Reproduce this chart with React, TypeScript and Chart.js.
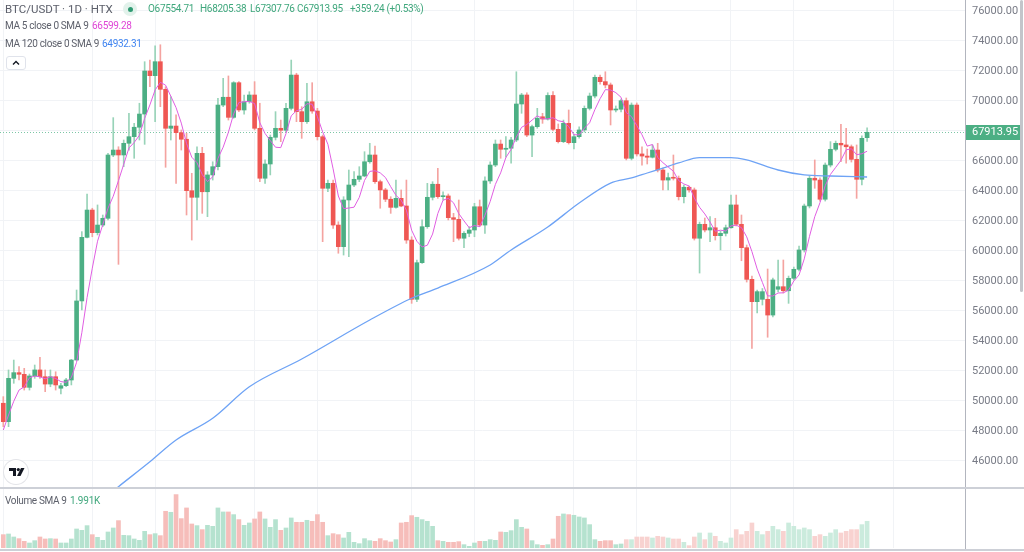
import React, { useEffect, useRef } from 'react';
import { Chart, registerables } from 'chart.js';

Chart.register(...registerables);

// ---- Daily candles (BTC/USDT 1D, HTX) ----
const opens = [
  49850, 48620, 51510, 51890, 51780, 50910, 51670, 52070, 51620, 51130,
  51620, 50850, 51020, 51400, 52730, 56670, 60910, 62730, 61220, 61730,
  62180, 66400, 66730, 66400, 67180, 67620, 68250, 69130, 72000, 71690,
  72620, 70780, 68180, 68330, 67890, 67450, 64020, 63580, 66510, 63950,
  65070, 65620, 69730, 70250, 68910, 71220, 69400, 69950, 70400, 68180,
  64850, 65800, 67580, 68180, 68050, 69510, 71730, 69290, 68620, 69950,
  69330, 67620, 64180, 64510, 61730, 60290, 63400, 64400, 64780, 65000,
  65950, 66400, 64620, 64070, 63450, 62910, 63510, 63000, 60730, 56780,
  59220, 61620, 63580, 64450, 63620, 63670, 62220, 62110, 60850, 61180,
  61400, 62950, 61730, 64670, 65730, 67130, 66780, 66850, 67400, 69800,
  70400, 67730, 68290, 68950, 68800, 70370, 68110, 67290, 68510, 67220,
  67620, 68070, 69510, 70330, 71580, 71290, 71070, 69400, 69450, 70020,
  66180, 69730, 66470, 66330, 66250, 66730, 65400, 64730, 64890, 64850,
  63620, 64250, 64070, 60850, 61780, 61400, 61550, 61020, 61180, 61550,
  63070, 61780, 60220, 58110, 56620, 56780, 56780, 55730, 57450, 57620,
  57350, 58180, 58780, 60070, 63000, 64850, 64730, 63450, 65730, 66780,
  67180, 67070, 66950, 66110, 64780, 67554.71,
];
const highs = [
  50290, 52070, 52730, 52290, 52180, 51800, 52400, 52910, 52070, 52070,
  51950, 51180, 51510, 52780, 57400, 61290, 63800, 62850, 63070, 62400,
  66510, 68890, 66950, 67400, 69180, 68510, 69850, 72620, 72730, 73670,
  73750, 70950, 70290, 69070, 68070, 67850, 65180, 66950, 66910, 65290,
  65950, 70180, 71510, 71670, 71290, 71290, 70400, 70620, 71290, 69850,
  66070, 67730, 69290, 68730, 69850, 72730, 71850, 69620, 71180, 71220,
  69510, 67730, 64730, 64730, 61950, 63620, 65400, 65290, 65620, 66620,
  67180, 67000, 64730, 64180, 63620, 64730, 64070, 64730, 60950, 59400,
  62070, 64510, 64620, 65510, 63950, 63800, 62510, 63400, 61290, 61620,
  63180, 63400, 64950, 65950, 67400, 67400, 67620, 67580, 71950, 70510,
  70550, 68400, 69510, 69180, 70550, 70620, 68470, 68730, 69400, 67800,
  68270, 69670, 70530, 71730, 71730, 71950, 71200, 69670, 70130, 70200,
  69870, 69870, 66950, 66800, 67070, 67180, 65530, 65200, 66400, 65000,
  64400, 64330, 64200, 61930, 62200, 62290, 62180, 61330, 61730, 63730,
  63730, 62400, 60400, 58330, 57400, 57500, 58800, 58200, 59400, 59400,
  58330, 58930, 60330, 63130, 65000, 66070, 64870, 65870, 67290, 67330,
  68450, 68180, 67070, 67070, 67670, 68205.38,
];
const lows = [
  48290, 48290, 51180, 51400, 50730, 50730, 51510, 51510, 50620, 50950,
  50730, 50470, 50950, 51070, 52730, 56070, 60880, 60950, 61070, 61620,
  62070, 66290, 59110, 65620, 66730, 66180, 67400, 67110, 70950, 68620,
  69620, 65580, 67400, 64510, 66730, 62400, 60730, 62070, 62510, 62290,
  64730, 65400, 69620, 68730, 68850, 69290, 69130, 69850, 68070, 64620,
  64510, 65070, 67400, 67290, 67950, 69400, 68620, 67510, 68510, 69180,
  67400, 60620, 63950, 61510, 59850, 59730, 59620, 64290, 64620, 64950,
  65850, 64510, 62850, 63290, 62510, 62850, 62950, 60510, 56510, 56620,
  59180, 61510, 63400, 63510, 63400, 62070, 60620, 60730, 60220, 60950,
  60950, 61620, 61180, 64510, 65620, 66180, 66250, 65850, 67290, 69180,
  67620, 66290, 68180, 68510, 68730, 68000, 67200, 67220, 67130, 66800,
  67530, 67930, 69400, 70200, 71130, 70870, 68400, 69270, 69270, 66070,
  66070, 66330, 65730, 65800, 66200, 65270, 64070, 64070, 64730, 63400,
  63200, 63930, 60730, 58530, 61270, 60620, 60730, 60070, 61000, 61530,
  61670, 59350, 57930, 53510, 55870, 56400, 54250, 55600, 57270, 57200,
  56510, 58070, 58670, 59930, 62870, 64180, 63330, 63330, 65600, 66670,
  65950, 65850, 65930, 63510, 64400, 67307.76,
];
const closes = [
  48620, 51510, 51890, 51780, 50910, 51670, 52070, 51620, 51130, 51620,
  51070, 51020, 51400, 52730, 56670, 60910, 62730, 61220, 61730, 62180,
  66400, 66730, 66400, 67180, 67620, 68250, 69130, 72000, 71690, 72620,
  70780, 68180, 68330, 67890, 67450, 64020, 63580, 66510, 63950, 65070,
  65620, 69730, 70250, 68910, 71220, 69400, 69950, 70400, 68180, 64850,
  65800, 67580, 68180, 68050, 69510, 71730, 69290, 68620, 69950, 69330,
  67620, 64180, 64510, 61730, 60290, 63400, 64400, 64780, 65000, 65950,
  66400, 64620, 64070, 63450, 62910, 63510, 63000, 60730, 56780, 59220,
  61620, 63580, 64450, 63620, 63670, 62220, 62110, 60850, 61180, 61400,
  62950, 61730, 64670, 65730, 67130, 66780, 66850, 67400, 69800, 70400,
  67730, 68290, 68850, 68800, 70370, 68110, 67290, 68510, 67220, 67620,
  68070, 69510, 70330, 71580, 71290, 71070, 69400, 69450, 70020, 66180,
  69730, 66470, 66330, 66250, 66730, 65400, 64730, 64890, 64850, 63620,
  64250, 64070, 60850, 61780, 61400, 61550, 61020, 61180, 61550, 63070,
  61780, 60220, 58110, 56620, 57290, 57290, 55730, 58070, 57620, 57350,
  58180, 58780, 60070, 63000, 64850, 64730, 63450, 65730, 66780, 67180,
  67070, 66950, 66110, 64780, 67510, 67913.95,
];
const volumes = [
  1480, 1554, 1221, 1036, 740, 555, 814, 1221, 999, 1036,
  999, 555, 555, 999, 2109, 1961, 2479, 1480, 1184, 851,
  1776, 2220, 3034, 1406, 1369, 999, 851, 1850, 1480, 1591,
  1369, 4070, 3959, 5920, 3256, 4440, 2664, 2479, 2035, 2516,
  2405, 4440, 3996, 3996, 3700, 3145, 2516, 2775, 3219, 3996,
  3219, 2294, 3145, 1961, 2220, 3330, 2849, 2849, 3071, 2960,
  3700, 2849, 1369, 1591, 1480, 1110, 1739, 629, 481, 1036,
  814, 740, 1036, 814, 666, 925, 2775, 2849, 3589, 3404,
  3145, 2960, 2405, 814, 740, 629, 629, 703, 370, 185,
  555, 740, 740, 925, 851, 1776, 1739, 1924, 3145, 2294,
  2109, 814, 370, 296, 370, 999, 3515, 3774, 3700, 3626,
  3441, 3330, 2590, 925, 740, 814, 814, 370, 444, 925,
  925, 1221, 1221, 1221, 1110, 1295, 1221, 1110, 999, 999,
  629, 259, 1221, 1665, 925, 1665, 1295, 740, 555, 1110,
  2035, 1480, 1850, 2775, 1850, 1480, 1850, 2405, 2035, 1850,
  2775, 2405, 2035, 2220, 2035, 1295, 1480, 1295, 1665, 2035,
  1665, 1850, 2035, 2035, 2590, 2960,
];
// closes before the first visible candle (needed for the MA 5 start)
const priorCloses = [46500, 47300, 48050, 49850];
// MA 120 line, read at these candle positions
const ma120Index = [16, 22, 28, 33, 40, 47, 57, 70, 78, 83, 93, 97, 104, 110, 116, 120, 123, 126, 129, 133, 139, 142, 148, 153, 158, 165];
const ma120Values = [42600, 44290, 45950, 47400, 48850, 50950, 52800, 55400, 56850, 57530, 59070, 60070, 61600, 63200, 64530, 64870, 65200, 65530, 65870, 66230, 66230, 66070, 65400, 65070, 65000, 64932.31];
const priceTicks = [46000, 48000, 50000, 52000, 54000, 56000, 58000, 60000, 62000, 64000, 66000, 68000, 70000, 72000, 74000, 76000];
const timeGrid = [0, 17, 29, 48, 60, 78, 90, 109, 121, 139, 151, 170];

const X_MIN = -0.63;
const X_MAX = 183.7;
const Y_MIN = 44200;
const Y_MAX = 76733;
const VOL_MAX = 6650;

const UP = '#4caf84';
const DOWN = '#ef5753';
const WICK_UP = '#98d3b8';
const WICK_DOWN = '#f4a3a0';
const VOL_UP = '#b5e2cf';
const VOL_DOWN = '#f6bdba';
const VOL_UP_FADE = '#cbebdd';
const VOL_DOWN_FADE = '#f8d2d0';
const GRID = '#f1f3f6';
const FONT = 'Roboto, "Noto Sans", sans-serif';

function buildChart(canvas: HTMLCanvasElement, swap: boolean): any {
  const idx = closes.map((_, i) => i);
  const isUp = idx.map((i) => closes[i] >= opens[i]);
  const series = [...priorCloses, ...closes];
  const ma5 = idx.map((i) => (series[i] + series[i + 1] + series[i + 2] + series[i + 3] + series[i + 4]) / 5);
  const lastClose = closes[closes.length - 1];

  const overlay = {
    id: 'tvOverlay',
    beforeDatasetsDraw(chart: any) {
      const { ctx, chartArea } = chart;
      const y = Math.round(chart.scales.y.getPixelForValue(lastClose)) + 0.5;
      ctx.save();
      ctx.strokeStyle = '#7cc6a6';
      ctx.lineWidth = 1;
      ctx.setLineDash([1, 2]);
      ctx.beginPath();
      ctx.moveTo(chartArea.left, y);
      ctx.lineTo(chartArea.right, y);
      ctx.stroke();
      ctx.restore();
    },
    afterDraw(chart: any) {
      const { ctx, chartArea, width } = chart;
      const vs = chart.scales.yv;
      ctx.save();
      ctx.fillStyle = '#cdd0d7';
      ctx.fillRect(0, Math.round(vs.top) - 1, width, 2);
      ctx.fillRect(0, Math.round(vs.bottom) + 1, width, 2);
      const y = Math.round(chart.scales.y.getPixelForValue(lastClose));
      ctx.fillStyle = UP;
      ctx.fillRect(chartArea.right + 1, y - 7, 54, 15);
      ctx.fillStyle = '#ffffff';
      ctx.font = '11px ' + FONT;
      ctx.textBaseline = 'middle';
      ctx.textAlign = 'left';
      ctx.fillText(lastClose.toFixed(2), chartArea.right + 7, y + 0.5);
      ctx.restore();
    },
  };

  const xScale: any = {
    type: 'linear',
    min: X_MIN,
    max: X_MAX,
    offset: false,
    grid: { color: GRID, drawTicks: false, offset: false },
    border: { display: false },
    ticks: { display: false, autoSkip: false },
    afterBuildTicks: (s: any) => {
      s.ticks = timeGrid.map((v) => ({ value: v }));
    },
    afterFit: (s: any) => {
      s.height = 0;
      s.paddingLeft = 0;
      s.paddingRight = 0;
    },
  };
  const yScale: any = {
    type: 'linear',
    position: 'right',
    stack: 'panes',
    stackWeight: 488,
    min: Y_MIN,
    max: Y_MAX,
    grid: { color: GRID, drawTicks: false },
    border: { display: true, color: '#b2b5be' },
    ticks: {
      autoSkip: false,
      padding: 7,
      color: '#787b86',
      font: { family: FONT, size: 11 },
      callback: (v: any) => Number(v).toFixed(2),
    },
    afterBuildTicks: (s: any) => {
      s.ticks = priceTicks.map((v) => ({ value: v }));
    },
    afterFit: (s: any) => {
      s.width = 59;
      s.paddingTop = 0;
      s.paddingBottom = 0;
    },
  };
  const vScale: any = {
    type: 'linear',
    position: 'right',
    stack: 'panes',
    stackWeight: 60,
    min: 0,
    max: VOL_MAX,
    grid: { display: false },
    border: { display: true, color: '#b2b5be' },
    ticks: { display: false },
    afterFit: (s: any) => {
      s.width = 59;
      s.paddingTop = 0;
      s.paddingBottom = 0;
    },
  };
  const scales: any = { x: xScale };
  if (swap) {
    scales.yv = vScale;
    scales.y = yScale;
  } else {
    scales.y = yScale;
    scales.yv = vScale;
  }

  const chart: any = new Chart(canvas, {
    type: 'bar',
    data: {
      datasets: [
        {
          type: 'line',
          label: 'MA 5',
          data: idx.map((i) => ({ x: i, y: ma5[i] })),
          yAxisID: 'y',
          borderColor: '#e05ee2',
          borderWidth: 1,
          pointRadius: 0,
          tension: 0,
          order: 0,
        },
        {
          type: 'line',
          label: 'MA 120',
          data: ma120Index.map((x, k) => ({ x, y: ma120Values[k] })),
          yAxisID: 'y',
          borderColor: '#6ea3f5',
          borderWidth: 1.3,
          pointRadius: 0,
          cubicInterpolationMode: 'monotone',
          order: 0,
        },
        {
          type: 'bar',
          label: 'wick',
          data: idx.map((i) => ({ x: i, y: [lows[i], highs[i]] })),
          yAxisID: 'y',
          backgroundColor: idx.map((i) => (isUp[i] ? WICK_UP : WICK_DOWN)),
          barThickness: 1,
          grouped: false,
          order: 2,
        },
        {
          type: 'bar',
          label: 'body',
          data: idx.map((i) => ({ x: i, y: [opens[i], closes[i]] })),
          yAxisID: 'y',
          backgroundColor: idx.map((i) => (isUp[i] ? UP : DOWN)),
          barThickness: 4,
          minBarLength: 1,
          grouped: false,
          order: 1,
        },
        {
          type: 'bar',
          label: 'volume',
          data: idx.map((i) => ({ x: i, y: volumes[i] })),
          yAxisID: 'yv',
          backgroundColor: idx.map((i) =>
            i >= 119 ? (isUp[i] ? VOL_UP_FADE : VOL_DOWN_FADE) : isUp[i] ? VOL_UP : VOL_DOWN
          ),
          barThickness: 4,
          grouped: false,
          order: 3,
        },
      ],
    } as any,
    options: {
      animation: false,
      responsive: false,
      maintainAspectRatio: false,
      events: [],
      layout: { padding: { left: 0, right: 0, top: 0, bottom: 4 } },
      plugins: { legend: { display: false }, tooltip: { enabled: false } },
      scales,
    } as any,
    plugins: [overlay],
  });

  if (!swap && chart.scales.y.top > chart.scales.yv.top) {
    chart.destroy();
    return buildChart(canvas, true);
  }
  return chart;
}

export default function App() {
  const ref = useRef<HTMLCanvasElement>(null);

  useEffect(() => {
    document.body.style.margin = '0';
    if (!ref.current) return;
    const chart = buildChart(ref.current, false);
    return () => chart.destroy();
  }, []);

  const gray = '#5d606b';
  const green = '#3fa77c';
  const small = { fontSize: 10, letterSpacing: -0.35, lineHeight: '14px', whiteSpace: 'nowrap' as const };

  return (
    <div
      style={{
        position: 'fixed',
        left: 0,
        top: 0,
        width: 1024,
        height: 552,
        background: '#ffffff',
        overflow: 'hidden',
        fontFamily: FONT,
      }}
    >
      <canvas ref={ref} width={1024} height={552} style={{ position: 'absolute', left: 0, top: 0, width: 1024, height: 552 }} />

      <div style={{ position: 'absolute', left: 5, top: 2, fontSize: 11.5, lineHeight: '14px', color: gray, whiteSpace: 'nowrap' }}>
        BTC/USDT · 1D · HTX
      </div>
      <div style={{ position: 'absolute', left: 123, top: 2, width: 14, height: 14, borderRadius: '50%', background: '#e2f2eb' }} />
      <div style={{ position: 'absolute', left: 127.5, top: 6.5, width: 5, height: 5, borderRadius: '50%', background: '#2f9a72' }} />
      {[
        ['O67554.71', 148],
        ['H68205.38', 200],
        ['L67307.76', 250],
        ['C67913.95', 297],
        ['+359.24 (+0.53%)', 350],
      ].map(([t, x]) => (
        <div key={t as string} style={{ position: 'absolute', left: x as number, top: 2, color: green, ...small, letterSpacing: -0.3 }}>
          {t}
        </div>
      ))}

      <div style={{ position: 'absolute', left: 5, top: 19, color: gray, ...small }}>MA 5 close 0 SMA 9</div>
      <div style={{ position: 'absolute', left: 92, top: 19, color: '#df45d6', ...small, letterSpacing: -0.3 }}>66599.28</div>
      <div style={{ position: 'absolute', left: 5, top: 37, color: gray, ...small }}>MA 120 close 0 SMA 9</div>
      <div style={{ position: 'absolute', left: 102, top: 37, color: '#3f84f0', ...small, letterSpacing: -0.3 }}>64932.31</div>

      <div
        style={{
          position: 'absolute',
          left: 6,
          top: 56,
          width: 20,
          height: 14,
          border: '1px solid #e0e3eb',
          borderRadius: 3,
          boxSizing: 'border-box',
          background: '#ffffff',
        }}
      >
        <svg width="18" height="12" style={{ position: 'absolute', left: 0, top: 0 }}>
          <polyline points="6,7.5 9,4.5 12,7.5" fill="none" stroke="#131722" strokeWidth="1.4" />
        </svg>
      </div>

      <div
        style={{
          position: 'absolute',
          left: 4,
          top: 460,
          width: 24,
          height: 24,
          borderRadius: '50%',
          background: '#ffffff',
          boxShadow: '0 0 0 1px #e3e4e8',
        }}
      >
        <svg width="24" height="24" style={{ position: 'absolute', left: 0, top: 0 }}>
          <polygon points="5,8 12,8 12,16 9,16 9,11 5,11" fill="#131722" />
          <circle cx="14.3" cy="9.6" r="1.6" fill="#131722" />
          <polygon points="17,8 20.5,8 16.5,16 13,16" fill="#131722" />
        </svg>
      </div>

      <div style={{ position: 'absolute', left: 5, top: 493.5, color: gray, ...small }}>Volume SMA 9</div>
      <div style={{ position: 'absolute', left: 70, top: 493.5, color: green, ...small, letterSpacing: -0.2 }}>1.991K</div>

      <div style={{ position: 'absolute', left: 1020, top: 0, width: 3, height: 292, background: '#c3c5ca', borderRadius: 2 }} />
    </div>
  );
}
